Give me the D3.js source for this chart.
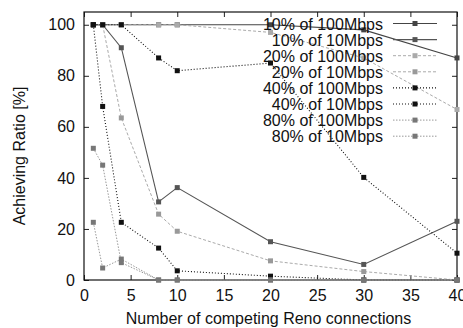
<!DOCTYPE html>
<html><head><meta charset="utf-8">
<script src="https://cdn.jsdelivr.net/npm/d3@7"></script>
<style>body{margin:0;background:#fff}svg{display:block}text{font-family:"Liberation Sans",Arial,sans-serif}</style>
</head><body>
<svg id="c" width="463" height="328"></svg>
<script>
const xValues = [1, 2, 4, 8, 10, 20, 30, 40];
const seriesNames = ["10% of 100Mbps","10% of 10Mbps","20% of 100Mbps","20% of 10Mbps","40% of 100Mbps","40% of 10Mbps","80% of 100Mbps","80% of 10Mbps"];
const s10of100 = [100, 100, 100, 100, 100, 100, 98, 87];
const s10of10  = [100, 100, 91, 30.6, 36.2, 15, 6.1, 23];
const s20of100 = [100, 100, 100, 100, 100, 97, 87, 66.8];
const s20of10  = [100, 100, 63.5, 25.8, 19.1, 7.5, 3.3, 0];
const s40of100 = [100, 100, 100, 87, 82, 85, 40.2, 10.5];
const s40of10  = [100, 68, 22.6, 12.5, 3.6, 1.5, 0, 0];
const s80of100 = [51.6, 45, 6.8, 0, 0, 0, 0, 0];
const s80of10  = [22.6, 4.7, 8.2, 0, 0, 0, 0, 0];
const xTicks = [0, 5, 10, 15, 20, 25, 30, 35, 40];
const yTicks = [0, 20, 40, 60, 80, 100];

const allSeries = [s10of100, s10of10, s20of100, s20of10, s40of100, s40of10, s80of100, s80of10];
const styles = [
  {stroke:"#444", dash:null, mark:"#444", w:1.1},
  {stroke:"#555", dash:null, mark:"#555", w:1.1},
  {stroke:"#aaa", dash:"3,2", mark:"#aaa", w:1},
  {stroke:"#aaa", dash:"3,2", mark:"#999", w:1},
  {stroke:"#111", dash:"1,2", mark:"#111", w:1.1},
  {stroke:"#111", dash:"1,2", mark:"#111", w:1.1},
  {stroke:"#999", dash:"1.5,1.5", mark:"#777", w:1},
  {stroke:"#999", dash:"1.5,1.5", mark:"#777", w:1}
];

const svg = d3.select("#c");
const L = 84, R = 457, T = 12, B = 280;
const x = d3.scaleLinear().domain([0, 40]).range([L, R]);
const y = d3.scaleLinear().domain([0, 105]).range([B, T]);

// axes
const fs = 16;
const xAxis = svg.append("g").attr("transform", `translate(0,${B})`)
  .call(d3.axisBottom(x).tickValues(xTicks).tickSize(-5).tickPadding(10).tickFormat(d3.format("d")));
const yAxis = svg.append("g").attr("transform", `translate(${L},0)`)
  .call(d3.axisLeft(y).tickValues(yTicks).tickSize(-5).tickPadding(9).tickFormat(d3.format("d")));
const xTop = svg.append("g").attr("transform", `translate(0,${T})`)
  .call(d3.axisTop(x).tickValues(xTicks).tickSize(-5).tickFormat(""));
const yRight = svg.append("g").attr("transform", `translate(${R},0)`)
  .call(d3.axisRight(y).tickValues(yTicks).tickSize(-5).tickFormat(""));
[xAxis, yAxis, xTop, yRight].forEach(g => {
  g.select(".domain").remove();
  g.selectAll("line").attr("stroke", "#222");
  g.selectAll("text").attr("font-size", fs).attr("fill", "#111");
});
svg.append("rect").attr("x", L).attr("y", T).attr("width", R - L).attr("height", B - T)
  .attr("fill", "none").attr("stroke", "#111").attr("stroke-width", 1.2);

// titles
svg.append("text").attr("x", (L + R) / 2 - 2).attr("y", 324).attr("text-anchor", "middle")
  .attr("font-size", fs).attr("fill", "#111").text("Number of competing Reno connections");
svg.append("text").attr("transform", "translate(25,156) rotate(-90)").attr("text-anchor", "middle")
  .attr("font-size", fs).attr("fill", "#111").text("Achieving Ratio [%]");

// lines
const line = d3.line().x((d, i) => x(xValues[i])).y(d => y(d));
const sq = 5;
allSeries.forEach((vals, k) => {
  const st = styles[k];
  svg.append("path").datum(vals).attr("d", line).attr("fill", "none")
    .attr("stroke", st.stroke).attr("stroke-width", st.w)
    .attr("stroke-dasharray", st.dash);
  svg.append("g").selectAll("rect").data(vals).join("rect")
    .attr("x", (d, i) => x(xValues[i]) - sq / 2).attr("y", d => y(d) - sq / 2)
    .attr("width", sq).attr("height", sq).attr("fill", st.mark);
});

// legend
const lg = svg.append("g");
seriesNames.forEach((name, k) => {
  const st = styles[k];
  const ry = 23.5 + k * 16.1;
  lg.append("text").attr("x", 383).attr("y", ry + 6).attr("text-anchor", "end")
    .attr("font-size", fs).attr("fill", "#111").text(name);
  lg.append("line").attr("x1", 393).attr("x2", 437).attr("y1", ry).attr("y2", ry)
    .attr("stroke", st.stroke).attr("stroke-width", st.w).attr("stroke-dasharray", st.dash);
  lg.append("rect").attr("x", 415 - sq / 2).attr("y", ry - sq / 2).attr("width", sq).attr("height", sq)
    .attr("fill", st.mark);
});
</script>
</body></html>
